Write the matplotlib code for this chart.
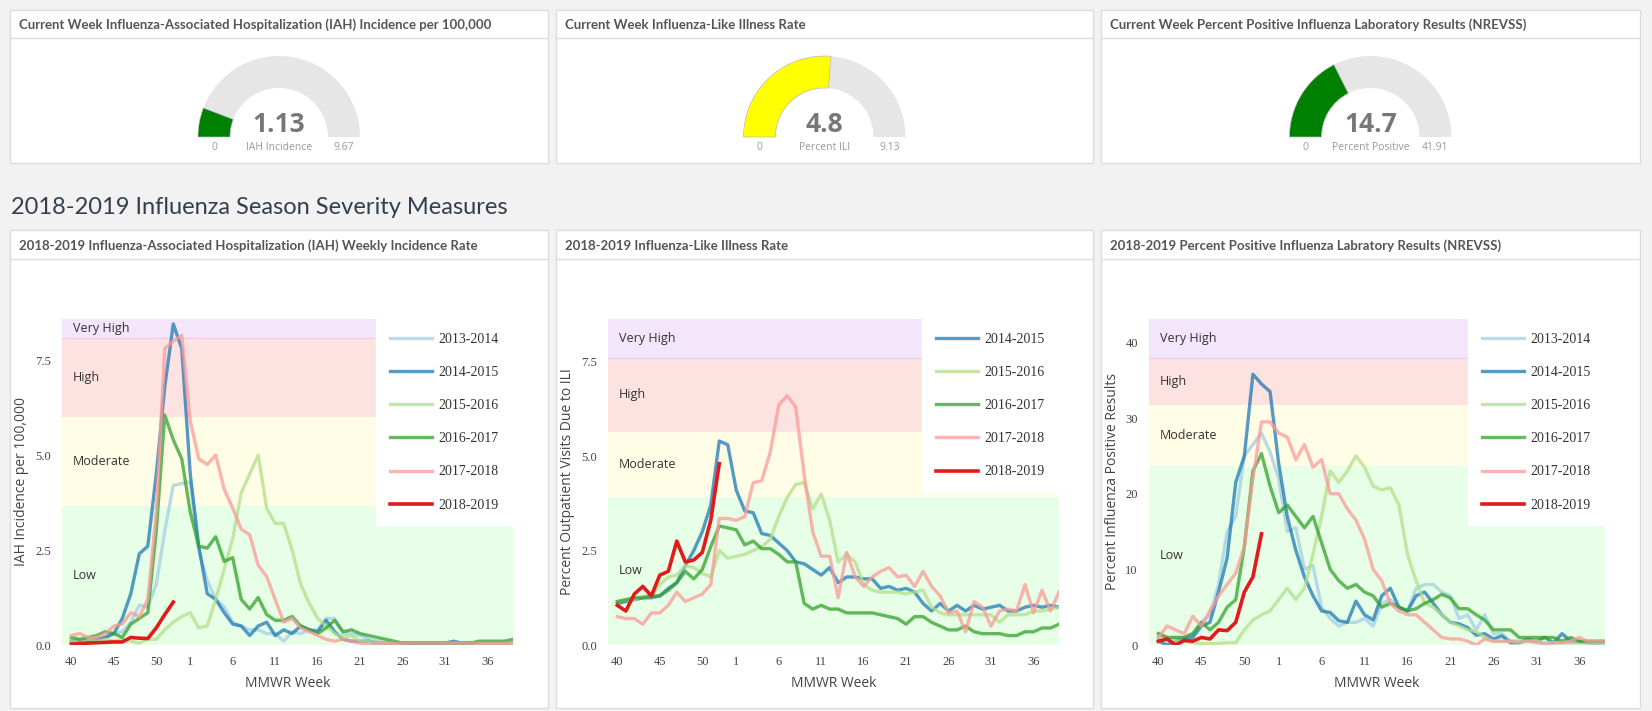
import matplotlib
matplotlib.use("Agg")
import matplotlib.pyplot as plt
from matplotlib.patches import Rectangle, Wedge

# ---- data ----
weeks = list(range(40, 54)) + list(range(1, 40))
tick_weeks = [40, 45, 50, 1, 6, 11, 16, 21, 26, 31, 36]

gauge_titles = ["Current Week Influenza-Associated Hospitalization (IAH) Incidence per 100,000",
                "Current Week Influenza-Like Illness Rate",
                "Current Week Percent Positive Influenza Laboratory Results (NREVSS)"]
gauge_values = [1.13, 4.8, 14.7]
gauge_max = [9.67, 9.13, 41.91]
gauge_labels = ["IAH Incidence", "Percent ILI", "Percent Positive"]
gauge_colors = ["#008000", "#ffff00", "#008000"]

chart_titles = ["2018-2019 Influenza-Associated Hospitalization (IAH) Weekly Incidence Rate",
                "2018-2019 Influenza-Like Illness Rate",
                "2018-2019 Percent Positive Influenza Labratory Results (NREVSS)"]
chart_ylabels = ["IAH Incidence per 100,000", "Percent Outpatient Visits Due to ILI",
                 "Percent Influenza Positive Results"]
band_names = ["Low", "Moderate", "High", "Very High"]
bands = [[0, 3.66, 5.99, 8.07, 8.58],
         [0, 3.93, 5.63, 7.61, 8.63],
         [0, 23.7, 31.7, 38.0, 43.1]]
yticks = [[0, 2.5, 5, 7.5], [0, 2.5, 5, 7.5], [0, 10, 20, 30, 40]]
ytick_labels = [["0.0", "2.5", "5.0", "7.5"], ["0.0", "2.5", "5.0", "7.5"], ["0", "10", "20", "30", "40"]]

season_colors = {"2013-2014": "#a6cee3", "2014-2015": "#1f78b4", "2015-2016": "#b2df8a",
                 "2016-2017": "#33a02c", "2017-2018": "#fb9a99", "2018-2019": "#e31a1c"}

iah = {
    "2013-2014": [0.1, 0.1, 0.1, 0.15, 0.2, 0.3, 0.35, 0.6, 1.05, 1.0, 1.6, 3.0, 4.2, 4.25, 4.3, 2.5, 1.7, 1.2, 1.0,
                  0.6, 0.5, 0.4, 0.4, 0.3, 0.3, 0.1, 0.35, 0.3, 0.4, 0.4, 0.7, 0.7, 0.3, 0.3, 0.25, 0.15, 0.1, 0.05,
                  0.05, 0.05, 0.05, 0.05, 0.05, 0.05, 0.05, 0.05, 0.05, 0.05, 0.05, 0.05, 0.05, 0.05, 0.05],
    "2014-2015": [0.1, 0.1, 0.1, 0.15, 0.2, 0.3, 0.7, 1.35, 2.4, 2.6, 4.5, 6.8, 8.45, 7.8, 4.5, 2.6, 1.35, 1.2, 0.85,
                  0.55, 0.5, 0.25, 0.5, 0.6, 0.25, 0.4, 0.3, 0.5, 0.4, 0.35, 0.65, 0.35, 0.15, 0.1, 0.1, 0.1, 0.05,
                  0.05, 0.05, 0.05, 0.05, 0.05, 0.05, 0.05, 0.05, 0.1, 0.05, 0.05, 0.05, 0.05, 0.05, 0.05, 0.05],
    "2015-2016": [0.1, 0.1, 0.15, 0.1, 0.15, 0.1, 0.15, 0.1, 0.05, 0.15, 0.15, 0.4, 0.6, 0.75, 0.85, 0.45, 0.5, 1.2,
                  2.0, 2.8, 4.0, 4.5, 5.0, 3.6, 3.2, 3.2, 2.5, 1.6, 1.1, 0.7, 0.5, 0.3, 0.2, 0.25, 0.1, 0.1, 0.05,
                  0.05, 0.05, 0.05, 0.05, 0.05, 0.05, 0.05, 0.05, 0.05, 0.05, 0.05, 0.05, 0.05, 0.05, 0.05, 0.05],
    "2016-2017": [0.2, 0.15, 0.2, 0.25, 0.35, 0.3, 0.2, 0.55, 0.7, 0.85, 3.0, 6.05, 5.4, 4.9, 3.5, 2.6, 2.55, 2.85,
                  2.2, 2.3, 1.2, 0.95, 1.25, 0.8, 0.65, 0.65, 0.75, 0.5, 0.4, 0.3, 0.45, 0.65, 0.35, 0.4, 0.3, 0.25,
                  0.2, 0.15, 0.1, 0.05, 0.05, 0.05, 0.05, 0.05, 0.05, 0.05, 0.05, 0.05, 0.1, 0.1, 0.1, 0.1, 0.15],
    "2017-2018": [0.25, 0.3, 0.2, 0.2, 0.3, 0.5, 0.55, 0.85, 0.75, 1.2, 3.5, 7.8, 8.0, 8.15, 5.9, 4.9, 4.75, 5.0, 4.1,
                  3.6, 3.05, 2.9, 2.1, 1.8, 1.2, 0.6, 0.7, 0.45, 0.35, 0.25, 0.15, 0.1, 0.15, 0.1, 0.05, 0.0, 0.05,
                  0.05, 0.05, 0.05, 0.05, 0.05, 0.05, 0.05, 0.05, 0.05, 0.05, 0.05, 0.05, 0.05, 0.05, 0.05, 0.05],
    "2018-2019": [0.02, 0.04, 0.05, 0.06, 0.07, 0.08, 0.08, 0.2, 0.18, 0.17, 0.45, 0.8, 1.13],
}

ili = {
    "2014-2015": [1.1, 1.15, 1.2, 1.25, 1.25, 1.3, 1.5, 1.65, 2.1, 2.5, 3.0, 3.7, 5.4, 5.3, 4.1, 3.55, 3.5, 2.95, 2.9,
                  2.7, 2.5, 2.2, 2.15, 2.0, 1.85, 2.05, 1.65, 1.8, 1.8, 1.75, 1.75, 1.5, 1.55, 1.45, 1.5, 1.4, 1.1,
                  0.9, 1.1, 0.9, 1.05, 0.9, 1.05, 0.95, 1.0, 1.05, 0.9, 0.9, 1.0, 1.05, 1.0, 1.05, 1.0],
    "2015-2016": [1.15, 1.2, 1.2, 1.3, 1.3, 1.6, 1.8, 1.85, 2.1, 2.05, 1.9, 1.8, 2.5, 2.3, 2.35, 2.4, 2.5, 2.6, 2.8,
                  3.4, 3.9, 4.25, 4.3, 3.6, 4.0, 3.3, 2.2, 2.4, 2.2, 1.6, 1.45, 1.4, 1.4, 1.4, 1.35, 1.4, 1.45, 1.0,
                  0.85, 0.8, 0.8, 0.8, 0.8, 0.8, 0.8, 0.6, 0.8, 0.8, 0.8, 0.9, 0.9, 0.95, 1.0],
    "2016-2017": [1.15, 1.2, 1.25, 1.25, 1.3, 1.3, 1.45, 1.65, 1.95, 1.75, 2.0, 2.6, 3.15, 3.1, 3.05, 2.65, 2.75,
                  2.55, 2.55, 2.4, 2.2, 2.2, 1.1, 0.95, 1.05, 0.95, 0.95, 0.85, 0.85, 0.85, 0.85, 0.8, 0.75, 0.7,
                  0.55, 0.75, 0.75, 0.6, 0.5, 0.4, 0.4, 0.5, 0.35, 0.3, 0.3, 0.3, 0.25, 0.25, 0.35, 0.35, 0.45,
                  0.45, 0.55],
    "2017-2018": [0.75, 0.7, 0.7, 0.55, 0.85, 0.85, 1.05, 1.4, 1.15, 1.25, 1.35, 1.6, 3.35, 3.35, 3.3, 3.4, 4.3, 4.35,
                  5.1, 6.35, 6.6, 6.3, 4.5, 3.0, 2.35, 2.35, 1.25, 2.45, 1.8, 1.55, 1.8, 1.95, 2.05, 1.8, 1.85, 1.55,
                  1.95, 1.55, 1.3, 0.85, 0.9, 0.35, 1.15, 1.0, 0.5, 0.9, 0.95, 0.9, 1.6, 0.85, 1.45, 0.9, 1.4],
    "2018-2019": [1.05, 0.9, 1.35, 1.55, 1.3, 1.85, 1.95, 2.75, 2.2, 2.25, 2.45, 3.3, 4.8],
}

pct_pos = {
    "2013-2014": [1.0, 0.5, 1.0, 1.0, 1.5, 3.0, 4.0, 8.0, 15.0, 17.0, 25.0, 26.5, 28.0, 25.5, 22.0, 15.0, 15.5, 10.0,
                  10.5, 5.0, 3.5, 2.5, 3.0, 3.0, 3.5, 2.5, 5.5, 6.0, 5.0, 4.5, 7.5, 8.0, 8.0, 7.0, 6.5, 3.5, 4.0, 2.0,
                  4.0, 1.5, 1.5, 0.5, 0.5, 0.5, 0.3, 0.3, 0.3, 0.3, 0.3, 0.3, 0.3, 0.3, 0.3],
    "2014-2015": [0.5, 0.0, 0.5, 0.8, 1.0, 2.5, 3.0, 7.0, 11.5, 21.5, 25.0, 35.8, 34.5, 33.5, 24.0, 17.0, 12.5, 9.0,
                  6.5, 4.5, 4.3, 3.2, 3.0, 5.8, 4.0, 3.3, 6.5, 7.5, 5.0, 4.5, 6.5, 7.0, 5.5, 4.0, 3.0, 2.8, 2.3, 1.3,
                  1.5, 0.8, 1.2, 0.3, 0.3, 0.8, 0.5, 1.0, 0.3, 1.5, 0.5, 0.5, 0.3, 0.3, 0.3],
    "2015-2016": [1.5, 1.0, 0.5, 0.5, 0.3, 0.2, 0.2, 0.2, 0.3, 0.3, 2.0, 3.3, 4.0, 4.5, 6.0, 7.5, 6.0, 7.5, 12.0, 17.0,
                  23.0, 21.5, 23.0, 25.0, 23.5, 21.0, 20.5, 20.8, 18.5, 12.0, 8.5, 5.5, 5.0, 4.0, 3.0, 2.5, 2.0, 1.8,
                  1.0, 0.5, 0.5, 0.5, 0.5, 0.5, 0.5, 0.3, 0.3, 0.3, 0.3, 0.3, 0.3, 0.3, 0.3],
    "2016-2017": [1.5, 1.0, 1.0, 1.0, 1.5, 3.0, 2.0, 3.0, 5.0, 6.0, 13.0, 23.0, 25.3, 21.0, 17.5, 18.5, 17.0, 15.5,
                  17.0, 13.5, 10.0, 8.5, 7.5, 8.0, 7.0, 6.5, 5.0, 5.5, 5.0, 4.5, 4.8, 5.5, 6.0, 6.7, 6.2, 4.8, 4.8,
                  4.0, 3.3, 2.0, 2.0, 2.0, 1.0, 1.0, 1.0, 1.0, 1.0, 0.5, 1.0, 0.5, 0.5, 0.5, 0.5],
    "2017-2018": [1.0, 2.5, 2.0, 1.5, 3.8, 2.5, 4.5, 6.5, 8.0, 9.5, 13.0, 22.0, 29.5, 29.5, 28.0, 27.5, 24.5, 26.5,
                  23.5, 24.5, 20.0, 20.0, 18.0, 16.5, 14.0, 10.0, 8.5, 5.5, 4.5, 4.0, 4.0, 3.0, 2.0, 1.0, 0.8, 0.8,
                  0.5, 0.0, 0.8, 0.5, 0.5, 0.5, 0.3, 0.5, 0.5, 0.0, 0.3, 0.3, 0.5, 1.0, 0.5, 0.5, 0.5],
    "2018-2019": [0.5, 0.8, 0.0, 0.6, 0.5, 1.0, 0.8, 2.0, 1.9, 3.0, 7.0, 9.0, 14.7],
}
chart_data = [iah, ili, pct_pos]

# ---- layout (pixels) ----
W, H = 1652, 711
fig = plt.figure(figsize=(W / 100, H / 100), dpi=100)
fig.patch.set_facecolor("#f2f2f2")
bg = fig.add_axes([0, 0, 1, 1])
bg.set_xlim(0, W)
bg.set_ylim(H, 0)
bg.axis("off")

panel_x = [(10, 548), (556, 1093), (1101, 1640)]
title_font = "Lato"


def panel(x0, x1, y0, y1, head_y, title):
    bg.add_patch(Rectangle((x0, y0), x1 - x0, y1 - y0, facecolor="white", edgecolor="#dddddd", lw=1))
    bg.plot([x0, x1], [head_y, head_y], color="#dddddd", lw=1)
    bg.text(x0 + 9, (y0 + head_y) / 2 + 1, title, fontsize=9.5, fontweight="bold", color="#555555",
            va="center", ha="left", family=title_font)


# gauges
for i, (x0, x1) in enumerate(panel_x):
    panel(x0, x1, 10, 163, 38, gauge_titles[i])
    cx, cy, ro, ri = (x0 + x1) / 2, 137, 81, 49
    bg.add_patch(Wedge((cx, cy), ro, 180, 360, width=ro - ri, facecolor="#e6e6e6", edgecolor="none"))
    frac = gauge_values[i] / gauge_max[i]
    bg.add_patch(Wedge((cx, cy), ro, 180, 180 + 180 * frac, width=ro - ri,
                       facecolor=gauge_colors[i], edgecolor="#bbbbbb", lw=0.5))
    bg.text(cx, 124, f"{gauge_values[i]:g}", fontsize=19, fontweight="bold", color="#777777",
            ha="center", va="center", family="Open Sans")
    for tx, s in [(cx - (ro + ri) / 2, "0"), (cx, gauge_labels[i]), (cx + (ro + ri) / 2, f"{gauge_max[i]:g}")]:
        bg.text(tx, 148, s, fontsize=7.5, color="#999999", ha="center", va="center", family="Open Sans")

bg.text(11, 208, "2018-2019 Influenza Season Severity Measures", fontsize=17, color="#333f4f",
        ha="left", va="center", family=title_font)

# line charts
plot_boxes = [(62, 513), (608, 1059), (1149, 1605)]
top, bottom = 319, 645
for i, (x0, x1) in enumerate(panel_x):
    panel(x0, x1, 230, 708, 259, chart_titles[i])
    px0, px1 = plot_boxes[i]
    ax = fig.add_axes([px0 / W, 1 - bottom / H, (px1 - px0) / W, (bottom - top) / H])
    b = bands[i]
    band_colors = ["#e6ffe6", "#fffde6", "#fde2e2", "#f3e6fb"]
    for k in range(4):
        ax.axhspan(b[k], b[k + 1], color=band_colors[k], lw=0, zorder=0)
        ax.text(0.2, (b[k] + b[k + 1]) / 2 if k < 3 else b[k] + (b[k + 1] - b[k]) * 0.5,
                band_names[k], fontsize=9, color="#333333", va="center", ha="left", family="Open Sans")
    ax.axhline(b[3], color="#f4c6e6", lw=0.8, zorder=1)
    for season, vals in chart_data[i].items():
        lw = 2.6 if season == "2018-2019" else 2.4
        alpha = 1.0 if season == "2018-2019" else 0.75
        ax.plot(range(len(vals)), vals, color=season_colors[season], lw=lw, alpha=alpha,
                label=season, zorder=3)
    ax.set_xlim(-1.1, 52)
    ax.set_ylim(0, b[4])
    ax.set_xticks([weeks.index(w) for w in tick_weeks])
    ax.set_xticklabels([str(w) for w in tick_weeks])
    ax.set_yticks(yticks[i])
    ax.set_yticklabels(ytick_labels[i])
    ax.tick_params(length=0, labelsize=9, labelcolor="#444444", pad=8)
    for lab in ax.get_xticklabels() + ax.get_yticklabels():
        lab.set_family("Liberation Serif")
    for s in ax.spines.values():
        s.set_visible(False)
    ax.set_xlabel("MMWR Week", fontsize=10, color="#444444", family="Open Sans", labelpad=6)
    ax.set_ylabel(chart_ylabels[i], fontsize=10, color="#444444", family="Open Sans", labelpad=4)
    leg = ax.legend(loc="upper right", borderaxespad=0, frameon=True, fancybox=False,
                    handlelength=3, labelspacing=1.45, borderpad=1.0, handletextpad=0.5,
                    prop={"family": "Liberation Serif", "size": 10})
    leg.get_frame().set_facecolor("white")
    leg.get_frame().set_edgecolor("white")
    leg.get_frame().set_alpha(1)
    for t in leg.get_texts():
        t.set_color("#333333")

fig.savefig("out.png", dpi=100, facecolor=fig.get_facecolor())
